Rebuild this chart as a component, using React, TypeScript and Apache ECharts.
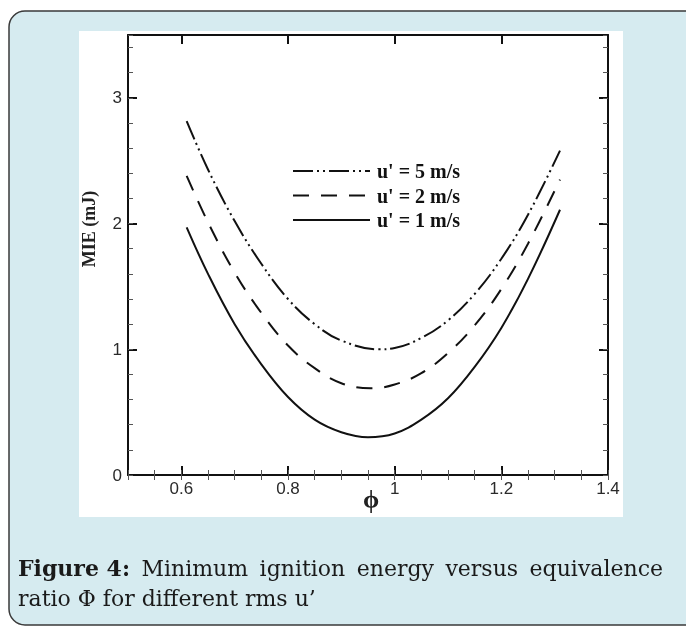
import React, { useEffect, useRef } from "react";
import * as echarts from "echarts";

// u' = 5 m/s (dash-dot-dot)
const phi5 = [0.61, 0.65, 0.70, 0.75, 0.80, 0.85, 0.90, 0.97, 1.00, 1.05, 1.10, 1.15, 1.20, 1.25, 1.31];
const mie5 = [2.815, 2.43, 2.02, 1.68, 1.40, 1.20, 1.07, 1.00, 1.01, 1.09, 1.23, 1.44, 1.72, 2.07, 2.58];
// u' = 2 m/s (dashed)
const phi2 = [0.61, 0.65, 0.70, 0.75, 0.80, 0.85, 0.90, 0.955, 1.00, 1.05, 1.10, 1.15, 1.20, 1.25, 1.31];
const mie2 = [2.38, 2.01, 1.61, 1.29, 1.03, 0.85, 0.73, 0.69, 0.72, 0.81, 0.97, 1.19, 1.48, 1.84, 2.35];
// u' = 1 m/s (solid)
const phi1 = [0.61, 0.65, 0.70, 0.75, 0.80, 0.85, 0.90, 0.95, 1.00, 1.05, 1.10, 1.15, 1.20, 1.25, 1.31];
const mie1 = [1.97, 1.60, 1.20, 0.88, 0.62, 0.44, 0.34, 0.30, 0.33, 0.44, 0.61, 0.86, 1.17, 1.56, 2.11];

const seriesNames = ["u' = 5 m/s", "u' = 2 m/s", "u' = 1 m/s"];
const xTicks = [0.6, 0.8, 1, 1.2, 1.4];
const yTicks = [0, 1, 2, 3];
const xTitle = "ϕ";
const yTitle = "MIE (mJ)";
const captionBold = "Figure 4:";
const captionWords = ["Minimum", "ignition", "energy", "versus", "equivalence"];
const captionLine2 = "ratio Φ for different rms u’";

const pairs = (xs: number[], ys: number[]) => xs.map((x, i) => [x, ys[i]]);

let shapeRegistered = false;

export default function App() {
  const ref = useRef<HTMLDivElement>(null);
  useEffect(() => {
    if (!ref.current) return;
    if (!shapeRegistered) {
      echarts.graphic.registerShape(
        "boxBorder",
        echarts.graphic.extendPath("M 700 11 L 25 11 A 16 16 0 0 0 9 27 L 9 609 A 16 16 0 0 0 25 625 L 700 625", {})
      );
      shapeRegistered = true;
    }
    const chart = echarts.init(ref.current, null, { renderer: "svg" });
    const ink = "#111";
    const grid = { left: 128, top: 35, right: 78, bottom: 153 };
    const xBase = { type: "value", min: 0.5, max: 1.4, splitLine: { show: false } };
    const yBase = { type: "value", min: 0, max: 3.5, splitLine: { show: false } };
    const labelFont = { fontFamily: "'Liberation Sans', Arial, sans-serif", fontSize: 17, color: "#2a2a2a" };
    const major = (pos: string, showLabel: boolean, ticks: number[], isX: boolean) => ({
      ...(isX ? xBase : yBase),
      position: pos,
      axisLine: { show: true, onZero: false, lineStyle: { color: ink, width: 2 } },
      axisTick: { show: true, inside: true, length: 9, customValues: ticks, lineStyle: { color: ink, width: 2 } },
      axisLabel: showLabel
        ? { show: true, customValues: ticks, margin: isX ? 5 : 6, ...labelFont }
        : { show: false },
    });
    const minor = (pos: string, interval: number, isX: boolean) => ({
      ...(isX ? xBase : yBase),
      position: pos,
      interval,
      axisLine: { show: false },
      axisTick: { show: true, inside: true, length: 5, lineStyle: { color: "#555", width: 1 } },
      axisLabel: { show: false },
    });

    // caption: justified first line, measured with canvas
    const capFamily = "'DejaVu Serif', 'Liberation Serif', serif";
    const capSize = 22;
    const ctx = document.createElement("canvas").getContext("2d")!;
    ctx.font = `bold ${capSize}px ${capFamily}`;
    const boldW = ctx.measureText(captionBold).width;
    ctx.font = `${capSize}px ${capFamily}`;
    const wordW = captionWords.map((w) => ctx.measureText(w).width);
    const lineLeft = 18;
    const lineRight = 663;
    const gap = (lineRight - lineLeft - boldW - wordW.reduce((a, b) => a + b, 0)) / captionWords.length;
    const captionX: number[] = [];
    let cx = lineLeft + boldW + gap;
    wordW.forEach((w) => {
      captionX.push(cx);
      cx += w + gap;
    });

    const textStyleCap = { fontFamily: capFamily, fontSize: capSize, fill: "#1a1a1a" };
    const legendFont = { fontFamily: "'Liberation Serif', 'Times New Roman', serif", fontSize: 20, fontWeight: "bold", fill: ink };
    const legendRows = [171, 195.5, 220];
    const dashes: any[] = [[20, 4, 2, 4, 2, 4], [16, 12], null];

    chart.setOption({
      animation: false,
      grid,
      xAxis: [
        major("bottom", true, xTicks, true),
        minor("bottom", 0.05, true),
        major("top", false, xTicks, true),
        minor("top", 0.05, true),
      ],
      yAxis: [
        major("left", true, yTicks, false),
        minor("left", 0.2, false),
        major("right", false, yTicks, false),
        minor("right", 0.2, false),
      ],
      series: [
        { name: seriesNames[0], data: pairs(phi5, mie5), dash: dashes[0] },
        { name: seriesNames[1], data: pairs(phi2, mie2), dash: dashes[1] },
        { name: seriesNames[2], data: pairs(phi1, mie1), dash: null },
      ].map((s) => ({
        type: "line",
        name: s.name,
        data: s.data,
        xAxisIndex: 0,
        yAxisIndex: 0,
        smooth: 0.4,
        symbol: "none",
        z: 5,
        lineStyle: { color: ink, width: 2, type: s.dash ? s.dash : "solid" },
      })),
      graphic: [
        { type: "rect", z: -20, shape: { x: 9, y: 11, width: 900, height: 614, r: 16 }, style: { fill: "#d6ebf0" } },
        { type: "boxBorder", z: -19, x: 0, y: 0, style: { fill: null, stroke: "#3a3a3a", lineWidth: 1.5 } },
        { type: "rect", z: -10, shape: { x: 79, y: 31, width: 544, height: 486 }, style: { fill: "#ffffff" } },
        ...legendRows.map((y, i) => ({
          type: "line",
          z: 10,
          shape: { x1: 293, y1: y, x2: 370, y2: y },
          style: { stroke: ink, lineWidth: 2, lineDash: dashes[i] || undefined },
        })),
        ...legendRows.map((y, i) => ({
          type: "text",
          z: 10,
          x: 377,
          y,
          style: { text: seriesNames[i], textVerticalAlign: "middle", textAlign: "left", ...legendFont },
        })),
        {
          type: "text", z: 10, x: 89, y: 229, rotation: Math.PI / 2,
          style: { text: yTitle, textAlign: "center", textVerticalAlign: "middle", fontFamily: "'Liberation Serif', serif", fontSize: 18, fontWeight: "bold", fill: "#222" },
        },
        {
          type: "text", z: 10, x: 371, y: 499,
          style: { text: xTitle, textAlign: "center", textVerticalAlign: "middle", fontFamily: "'Liberation Serif', 'DejaVu Serif', serif", fontSize: 26, fontWeight: "bold", fill: "#222" },
        },
        {
          type: "text", z: 10, x: lineLeft, y: 568,
          style: { text: captionBold, textVerticalAlign: "middle", ...textStyleCap, fontWeight: "bold" },
        },
        ...captionWords.map((w, i) => ({
          type: "text", z: 10, x: captionX[i], y: 568,
          style: { text: w, textVerticalAlign: "middle", ...textStyleCap },
        })),
        {
          type: "text", z: 10, x: lineLeft, y: 598,
          style: { text: captionLine2, textVerticalAlign: "middle", ...textStyleCap },
        },
      ],
    });
    return () => chart.dispose();
  }, []);
  return <div ref={ref} style={{ position: "fixed", left: 0, top: 0, width: 686, height: 628 }} />;
}
